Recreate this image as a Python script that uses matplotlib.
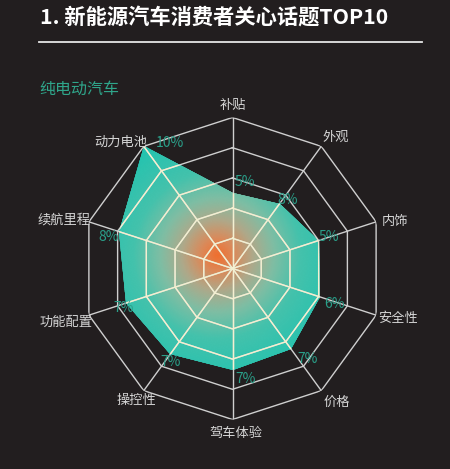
import numpy as np
import matplotlib
matplotlib.use("Agg")
import matplotlib.pyplot as plt
from matplotlib.colors import LinearSegmentedColormap
from matplotlib.lines import Line2D

plt.rcParams['font.family'] = ['Noto Sans CJK SC', 'DejaVu Sans']

# ---- data ----
title = "1. 新能源汽车消费者关心话题TOP10"
subtitle = "纯电动汽车"
categories = ["补贴", "外观", "内饰", "安全性", "价格", "驾车体验", "操控性", "功能配置", "续航里程", "动力电池"]
values = [5.0, 5.3, 6.0, 6.1, 6.6, 6.7, 7.0, 7.4, 7.9, 10.0]
value_labels = ["5%", "8%", "5%", "6%", "7%", "7%", "7%", "7%", "8%", "10%"]
ring_levels = [2, 4, 6, 8, 10]

# ---- style ----
BG = "#221e1f"
GRID_OUT = "#cfcfcf"
GRID_IN = "#f4f0d0"
TEAL_TXT = "#2a9f89"
LABEL_TXT = "#d6d6d6"

# label offsets (pixels)
cat_offsets = [(0, 12), (14, 9), (19, 0), (22, -3), (16, -12), (3, -14), (-7, -10), (-23, -7), (-25, 2), (-23, 4)]
val_offsets = [(12, 11), (8, 4), (10, 4), (14, -7), (16, -10), (13, -9), (0, -8), (-3, -5), (-10, -5), (26, 3)]

W, H = 450, 469
fig = plt.figure(figsize=(W / 100, H / 100), dpi=100)
fig.patch.set_facecolor(BG)

cx, cy, R = 232.5, 268.5, 151
ax = fig.add_axes([(cx - R) / W, (H - cy - R) / H, 2 * R / W, 2 * R / H], projection='polar')
ax.set_facecolor('none')
ax.set_theta_offset(np.pi / 2)
ax.set_theta_direction(-1)
rmax = max(ring_levels)
ax.set_ylim(0, rmax)
ax.grid(False)
ax.spines['polar'].set_visible(False)
ax.set_xticks([])
ax.set_yticks([])

n = len(categories)
angles = np.arange(n) * 2 * np.pi / n
ang_c = np.append(angles, angles[0])
val_c = np.append(values, values[0])

# filled polygon (used as clip for gradient)
poly = ax.fill(ang_c, val_c, facecolor='none', edgecolor='none', zorder=2)[0]

# radial gradient mesh
cmap = LinearSegmentedColormap.from_list("g", [
    (0.0, "#f07030"), (0.12, "#dc8a5a"), (0.26, "#b0a98a"),
    (0.42, "#80bea4"), (0.62, "#44c2ac"), (1.0, "#1ec3b0")])
th = np.linspace(0, 2 * np.pi, 361)
rr = np.linspace(0, rmax, 121)
TH, RR = np.meshgrid(th, rr)
X = RR * np.sin(TH)
Y = RR * np.cos(TH)
gx, gy = -1.0, 0.9
D = np.hypot(X - gx, Y - gy)
mesh = ax.pcolormesh(TH, RR, D, cmap=cmap, vmin=0, vmax=9, shading='gouraud', zorder=1)
mesh.set_clip_path(poly)

# grid: rings and spokes
for lvl in ring_levels:
    ax.plot(ang_c, [lvl] * (n + 1), color=GRID_OUT, lw=1.0, zorder=3)
    ln = ax.plot(ang_c, [lvl] * (n + 1), color=GRID_IN, lw=1.0, zorder=4)[0]
    ln.set_clip_path(poly)
for a in angles:
    ax.plot([a, a], [0, rmax], color=GRID_OUT, lw=1.0, zorder=3)
    ln = ax.plot([a, a], [0, rmax], color=GRID_IN, lw=1.0, zorder=4)[0]
    ln.set_clip_path(poly)

# category labels
for a, c, off in zip(angles, categories, cat_offsets):
    ax.annotate(c, xy=(a, rmax), xytext=off, textcoords='offset pixels',
                ha='center', va='center', fontsize=9.5, color=LABEL_TXT,
                annotation_clip=False, zorder=6)

# value labels
for a, v, t, off in zip(angles, values, value_labels, val_offsets):
    ax.annotate(t, xy=(a, v), xytext=off, textcoords='offset pixels',
                ha='center', va='center', fontsize=10, color=TEAL_TXT,
                annotation_clip=False, zorder=6)

# title, rule, subtitle
fig.text(40 / W, 1 - 17 / H, title, fontsize=15.3, fontweight='bold', color='white',
         ha='left', va='center')
fig.add_artist(Line2D([39 / W, 422 / W], [1 - 41.7 / H] * 2, transform=fig.transFigure,
                      color='#e6e6e6', lw=1.3))
fig.text(39 / W, 1 - 89 / H, subtitle, fontsize=11.5, color="#2fa58a", ha='left', va='center')

fig.savefig("out.png", dpi=100, facecolor=BG)
